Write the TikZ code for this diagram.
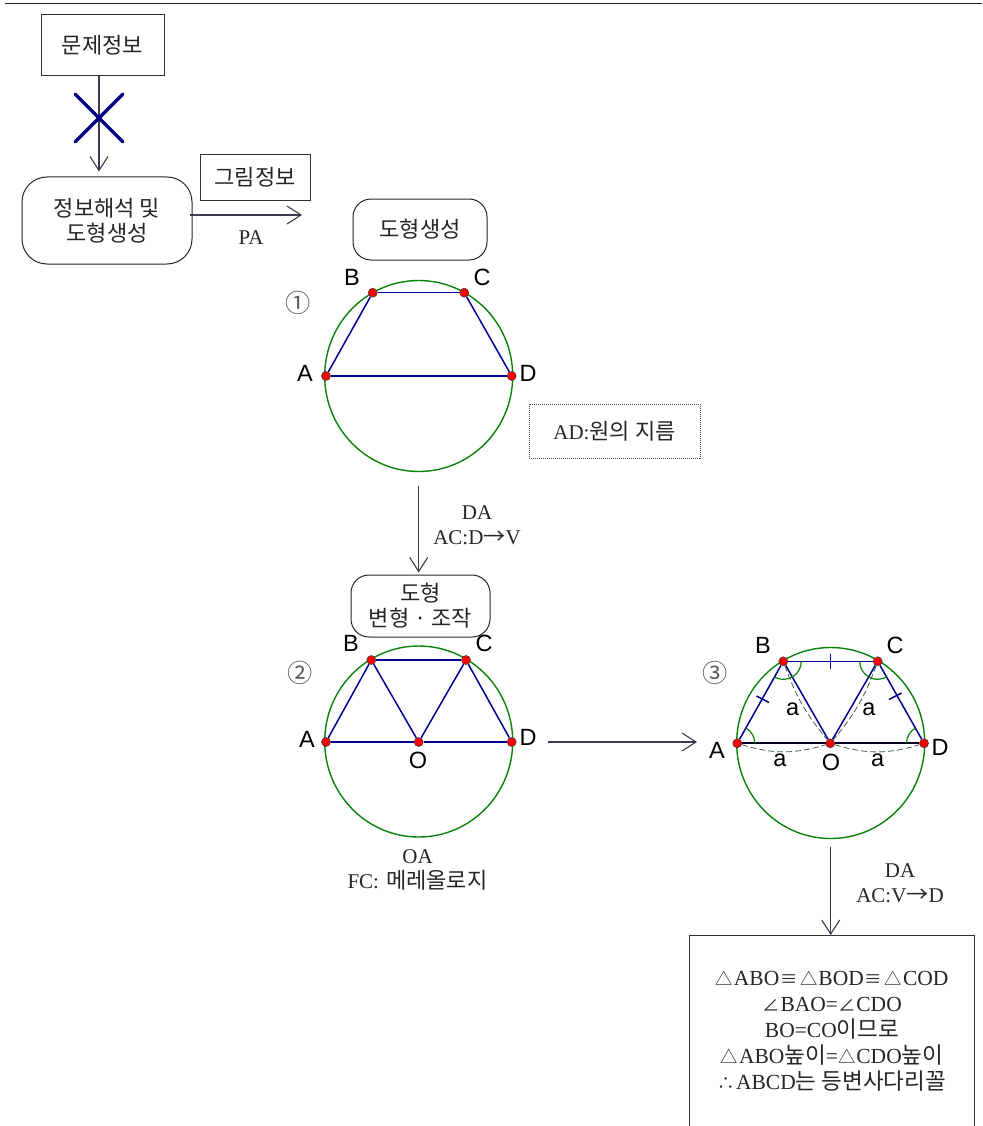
\documentclass[tikz,border=0pt]{standalone}
\usepackage{fontspec}
\setmainfont{Liberation Serif}
\setsansfont{Liberation Sans}
\newfontfamily\kr[Scale=1.05]{Noto Sans CJK KR}
\usepackage{xcolor}
\usetikzlibrary{arrows.meta,positioning,shapes.geometric}
\definecolor{lineBlue}{HTML}{000090}
\definecolor{crossBlue}{HTML}{000080}
\definecolor{ringGreen}{HTML}{0A820A}
\definecolor{arrGray}{HTML}{3A3A50}
\definecolor{dimGray}{HTML}{3F5F50}
\newcommand{\symsize}{\kr\fontsize{16.5}{16.5}\selectfont}
\newcommand{\trisym}{{\symsize △}\kern1pt}
\newcommand{\eqvsym}{\kern1pt{\symsize ≡}\kern2.5pt}
\newcommand{\angsym}{{\symsize ∠}\kern1pt}
\newcommand{\thersym}{{\symsize ∴}\kern1pt}

\begin{document}
\begin{tikzpicture}[
    x=1pt,y=1pt,
    >={Straight Barb[length=14pt,width=18pt]},
    every node/.style={font=\fontsize{21}{25}\selectfont,text=black!85,align=center},
    sqbox/.style ={rectangle,draw=black!80,line width=1pt,inner sep=0pt},
    rdbox/.style ={rectangle,draw=black!85,line width=1pt,inner sep=0pt},
    note/.style  ={rectangle,draw=black!70,densely dotted,line width=1pt,inner sep=0pt},
    ring/.style  ={ellipse,draw=ringGreen,line width=1.4pt,inner sep=0pt,
                   minimum width=188pt,minimum height=191pt},
    dot/.style   ={circle,draw=black!75,fill=red,line width=0.6pt,inner sep=0pt,minimum size=9pt},
    arr/.style   ={->,line width=1.1pt,arrGray},
    seg/.style   ={line width=1.5pt,lineBlue},
    ptlab/.style ={font=\sffamily\fontsize{23.5}{25}\selectfont,text=black},
    numlab/.style={font=\kr\fontsize{24}{25}\selectfont,text=black!65},
    ang/.style   ={line width=1.2pt,ringGreen},
    dim/.style   ={dash pattern=on 6pt off 3pt,line width=0.8pt,dimGray}
  ]
  \useasboundingbox (0,-1126) rectangle (982,0);
  \coordinate (ruleL) at (5,-3.5);
  \coordinate (ruleR) at (982,-3.5);
  \draw[line width=1.2pt,black!85] (ruleL) -- (ruleR);

  % left column
  \node[sqbox,minimum width=123pt,minimum height=61pt] (prob) at (102.5,-45) {\kr 문제정보};
  \node[rdbox,rounded corners=25pt,minimum width=170pt,minimum height=87pt] (interp) at (107,-220.5)
        {\kr 정보해석 및\\\kr 도형생성};
  \node[sqbox,minimum width=110pt,minimum height=45pt] (figinfo) at (255,-177.5) {\kr 그림정보};
  \coordinate (paEnd) at (302,-215);
  \draw[arr] ([xshift=-3.5pt]prob.south) -- ([xshift=-8pt,yshift=5pt]interp.north);
  \coordinate (crossA) at (75,-94);
  \coordinate (crossB) at (123,-142);
  \coordinate (crossC) at (123,-94);
  \coordinate (crossD) at (75,-142);
  \draw[line width=3.2pt,crossBlue,line cap=round] (crossA) -- (crossB);
  \draw[line width=3.2pt,crossBlue,line cap=round] (crossC) -- (crossD);
  \draw[arr] ([xshift=-3pt,yshift=5.5pt]interp.east) -- (paEnd);
  \node (pa) at (251,-238) {PA};

  % first figure
  \node[rdbox,rounded corners=18pt,minimum width=134pt,minimum height=61pt] (gen) at (420,-229.5) {\kr 도형생성};
  \node[ring] (c1) at (418.7,-376) {};
  \node[dot] (A1) at (326,-376) {};
  \node[dot] (B1) at (372.7,-292.7) {};
  \node[dot] (C1) at (464.3,-292.7) {};
  \node[dot] (D1) at (511.7,-376) {};
  \draw[seg] (A1) -- (B1);
  \draw[seg] (B1) -- (C1);
  \draw[seg] (C1) -- (D1);
  \draw[seg] (A1) -- (D1);
  \node[ptlab] (lA1) at (305,-373) {A};
  \node[ptlab] (lB1) at (352,-277) {B};
  \node[ptlab] (lC1) at (482,-277) {C};
  \node[ptlab] (lD1) at (528,-373) {D};
  \node[numlab] (n1) at (298,-303) {①};
  \node[note,minimum width=171pt,minimum height=54pt] (diam) at (614.5,-431) {AD:{\kr 원의 지름}};

  \node[rdbox,rounded corners=18pt,minimum width=139pt,minimum height=62pt] (morph) at (420.5,-606)
        {\kr 도형\\\kr 변형 · 조작};
  \draw[arr] ([yshift=-13.5pt]c1.south) -- ([xshift=-1.8pt,yshift=2pt]morph.north);
  \node (da1) at (477,-525) {DA\\AC:D{\kr →}V};

  % second figure
  \node[ring] (c2) at (418.7,-741.5) {};
  \node[dot] (A2) at (326,-742) {};
  \node[dot] (B2) at (371.3,-660) {};
  \node[dot] (C2) at (466,-660) {};
  \node[dot] (D2) at (511.7,-742) {};
  \node[dot] (O2) at (418.7,-742) {};
  \draw[seg] (A2) -- (B2);
  \draw[seg] (B2) -- (C2);
  \draw[seg] (C2) -- (D2);
  \draw[seg] (A2) -- (O2);
  \draw[seg] (O2) -- (D2);
  \draw[seg] (B2) -- (O2);
  \draw[seg] (C2) -- (O2);
  \node[ptlab] (lA2) at (307,-739) {A};
  \node[ptlab] (lB2) at (351,-643) {B};
  \node[ptlab] (lC2) at (484,-643) {C};
  \node[ptlab] (lD2) at (528,-737) {D};
  \node[ptlab] (lO2) at (418,-760) {O};
  \node[numlab] (n2) at (300,-673) {②};
  \node (oa) at (417.5,-869.5) {OA\\FC:\,\,{\kr 메레올로지}};

  % third figure
  \node[ring] (c3) at (830.7,-743) {};
  \node[dot] (A3) at (737.3,-743.3) {};
  \node[dot] (B3) at (783.3,-661.3) {};
  \node[dot] (C3) at (877.7,-661.3) {};
  \node[dot] (D3) at (924,-743.3) {};
  \node[dot] (O3) at (830.3,-743.3) {};
  \draw[arr] ([xshift=35pt,yshift=-0.5pt]c2.east) -- ([xshift=-39pt,yshift=1pt]c3.west);
  \draw[seg] (A3) -- (B3);
  \draw[seg] (B3) -- (C3);
  \draw[seg] (C3) -- (D3);
  \draw[seg] (B3) -- (O3);
  \draw[seg] (C3) -- (O3);
  \draw[line width=2pt,black!85!blue] (A3) -- (O3);
  \draw[line width=2pt,black!85!blue] (O3) -- (D3);
  \draw[ang] (A3) ++(0:17.5) arc[start angle=0,end angle=60,radius=17.5];
  \draw[ang] (D3) ++(120:17.5) arc[start angle=120,end angle=180,radius=17.5];
  \draw[ang] (B3) ++(238:18) arc[start angle=238,end angle=360,radius=18];
  \draw[ang] (C3) ++(180:18) arc[start angle=180,end angle=302,radius=18];
  \draw[dim] (A3) to[bend right=17] (O3);
  \draw[dim] (O3) to[bend right=17] (D3);
  \draw[dim] (B3) to[bend right=10] (O3);
  \draw[dim] (C3) to[bend left=10] (O3);
  % equal marks
  \coordinate (tickBCa) at (830.5,-653.5);
  \coordinate (tickBCb) at (830.5,-668.5);
  \coordinate (tickABa) at (756.5,-696);
  \coordinate (tickABb) at (769,-702.5);
  \coordinate (tickCDa) at (889,-699.5);
  \coordinate (tickCDb) at (901.5,-693);
  \draw[seg] (tickBCa) -- (tickBCb);
  \draw[seg] (tickABa) -- (tickABb);
  \draw[seg] (tickCDa) -- (tickCDb);
  \node[ptlab] (lA3) at (717,-750) {A};
  \node[ptlab] (lB3) at (763,-645) {B};
  \node[ptlab] (lC3) at (895,-645) {C};
  \node[ptlab] (lD3) at (940,-747) {D};
  \node[ptlab] (lO3) at (831,-762) {O};
  \node[ptlab] (aBO) at (792.7,-709) {a};
  \node[ptlab] (aCO) at (869,-709) {a};
  \node[ptlab] (aAO) at (780,-760) {a};
  \node[ptlab] (aOD) at (877.7,-760) {a};
  \node[numlab] (n3) at (715,-673) {③};

  % result, runs off the page
  \node[inner sep=0pt,minimum width=285pt,minimum height=191pt,anchor=north] (res) at (832,-935) {};
  \draw[line width=1pt,black!80] (res.south west) -- (res.north west) -- (res.north east) -- (res.south east);
  \draw[arr] ([yshift=-8pt]c3.south) -- ([xshift=-1.3pt]res.north);
  \node (da2) at (900,-883.5) {DA\\AC:V{\kr →}D};
  \node[anchor=north,font=\fontsize{21.5}{26}\selectfont] (proof) at (832,-968)
        {\trisym ABO\eqvsym\trisym BOD\eqvsym\trisym COD\\
         \angsym BAO=\angsym CDO\\
         BO=CO{\kr 이므로}\\
         \trisym ABO{\kr 높이}=\trisym CDO{\kr 높이}\\
         \thersym ABCD{\kr 는 등변사다리꼴}};
\end{tikzpicture}
\end{document}
